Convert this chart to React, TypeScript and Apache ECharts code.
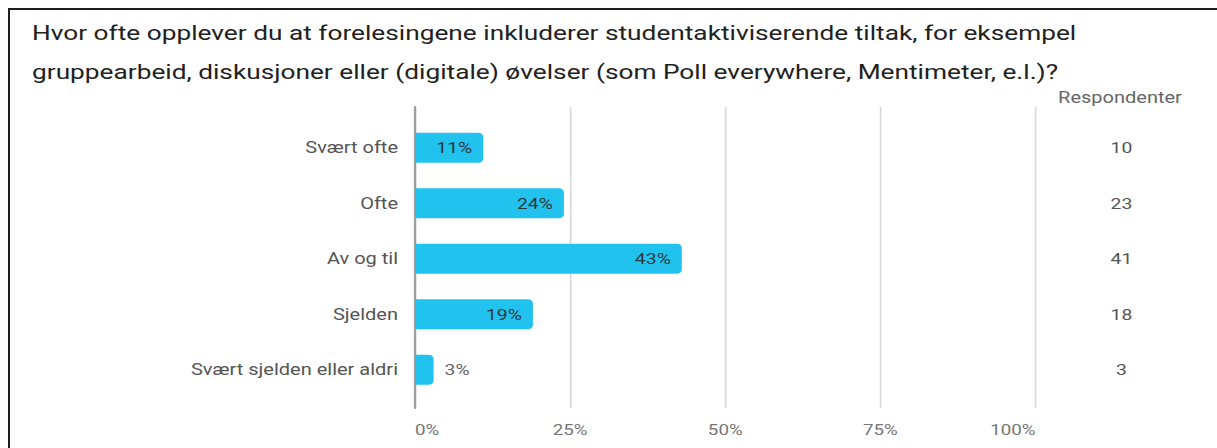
import React, { useEffect, useRef } from "react";
import * as echarts from "echarts";

const titleLines = [
  "Hvor ofte opplever du at forelesingene inkluderer studentaktiviserende tiltak, for eksempel",
  "gruppearbeid, diskusjoner eller (digitale) øvelser (som Poll everywhere, Mentimeter, e.l.)?",
];
const categories = ["Svært ofte", "Ofte", "Av og til", "Sjelden", "Svært sjelden eller aldri"];
const percents = [11, 24, 43, 19, 3];
const respondents = [10, 23, 41, 18, 3];
const countHeader = "Respondenter";
const xTicks = { min: 0, max: 100, interval: 25 };

const FONT = "Roboto, 'Noto Sans', sans-serif";
const BAR = "#22c2ef";
// the reference is drawn horizontally stretched
const SX = 1.25;
const W = 1217;
const H = 448;
const CW = W / SX;
const px = (x: number) => x / SX;

export default function App() {
  const ref = useRef<HTMLDivElement>(null);
  useEffect(() => {
    if (!ref.current) return;
    const chart = echarts.init(ref.current, null, { renderer: "svg" });
    const barData = percents.map((v) => ({
      value: v,
      label:
        v < 6
          ? { position: "right", distance: px(11), color: "#666" }
          : { position: "insideRight", distance: px(11), color: "#2b3940" },
    }));
    const plotLeft = px(415);
    const plotRight = CW - px(1035);
    chart.setOption({
      animation: false,
      textStyle: { fontFamily: FONT },
      title: {
        text: titleLines.join("\n"),
        left: px(32),
        top: 13,
        padding: 0,
        textStyle: { fontFamily: FONT, fontSize: 21, fontWeight: "normal", color: "#212121", lineHeight: 39 },
      },
      graphic: [
        {
          type: "text",
          x: px(1120),
          y: 97,
          style: {
            text: countHeader,
            fontFamily: FONT,
            fontSize: 16,
            fill: "#666",
            align: "center",
            verticalAlign: "middle",
          },
        },
      ],
      grid: [
        { left: plotLeft, right: plotRight, top: 107, bottom: 40, containLabel: false },
        { left: plotLeft, right: plotRight, top: 120, bottom: 50.5, containLabel: false },
      ],
      xAxis: [
        {
          gridIndex: 0,
          type: "value",
          ...xTicks,
          axisLine: { show: false },
          axisTick: { show: false },
          splitLine: { show: true, lineStyle: { color: "#d9d9d9", width: 1.3 } },
          axisLabel: {
            formatter: "{value}%",
            color: "#757575",
            fontSize: 15,
            margin: 14,
            fontFamily: FONT,
            alignMinLabel: "left",
            alignMaxLabel: "right",
          },
        },
        {
          gridIndex: 1,
          type: "value",
          ...xTicks,
          show: false,
        },
      ],
      yAxis: [
        {
          gridIndex: 0,
          type: "value",
          min: 0,
          max: 1,
          axisLine: { show: true, lineStyle: { color: "#9e9e9e", width: 1.8 } },
          axisTick: { show: false },
          axisLabel: { show: false },
          splitLine: { show: false },
        },
        {
          gridIndex: 1,
          type: "category",
          inverse: true,
          data: categories,
          axisLine: { show: false },
          axisTick: { show: false },
          axisLabel: { color: "#555", fontSize: 16, margin: px(17), fontFamily: FONT },
        },
        {
          gridIndex: 1,
          type: "category",
          inverse: true,
          position: "right",
          data: respondents.map(String),
          axisLine: { show: false },
          axisTick: { show: false },
          axisLabel: { color: "#555", fontSize: 15.5, margin: px(86), align: "center", fontFamily: FONT },
        },
      ],
      series: [
        {
          type: "bar",
          xAxisIndex: 1,
          yAxisIndex: 1,
          data: barData,
          barWidth: 30,
          itemStyle: { color: BAR, borderRadius: [0, 4, 4, 0] },
          label: {
            show: true,
            formatter: "{c}%",
            fontSize: 15.5,
            fontFamily: FONT,
          },
        },
      ],
    });
    return () => chart.dispose();
  }, []);
  return (
    <div style={{ position: "fixed", left: 0, top: 0, width: W, height: H, overflow: "hidden", background: "#fff" }}>
      <div
        style={{
          position: "absolute",
          left: 8,
          top: 8,
          width: 1260,
          height: 480,
          border: "2px solid #1e1e1e",
          boxSizing: "border-box",
        }}
      />
      <div
        ref={ref}
        style={{
          position: "absolute",
          left: 0,
          top: 0,
          width: CW,
          height: H,
          transform: `scaleX(${SX})`,
          transformOrigin: "0 0",
        }}
      />
    </div>
  );
}
